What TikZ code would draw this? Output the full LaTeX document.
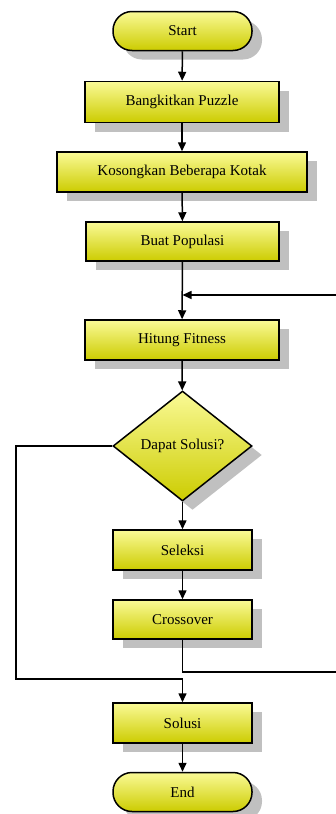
\documentclass[tikz,border=0pt]{standalone}
\usepackage{fontspec}
\setmainfont{Liberation Serif}
\usetikzlibrary{shapes.geometric,shadows,arrows.meta}
\definecolor{ytop}{HTML}{FAFA96}
\definecolor{ybot}{HTML}{CCCC00}
\definecolor{shd}{HTML}{C0C0C0}
\tikzset{
 box/.style={draw=black, line width=1.5pt, top color=ytop, bottom color=ybot,
   drop shadow={shadow xshift=10pt, shadow yshift=-9pt, fill=shd, opacity=1},
   font=\fontsize{15}{18}\selectfont, inner sep=0pt},
 proc/.style={box, rectangle, minimum height=40pt},
 term/.style={box, rectangle, rounded corners=19pt, minimum width=139pt, minimum height=39pt},
 dec/.style={box, diamond, aspect=1.26, minimum width=139pt, minimum height=110pt},
 arr/.style={line width=1.5pt, -{Triangle[length=9pt,width=8pt]}},
 ln/.style={line width=1.5pt}
}
\begin{document}
\begin{tikzpicture}[x=1pt,y=-1pt]
\useasboundingbox (0,0) rectangle (336,814);
\node[term] (start) at (182.5,31) {Start};
\node[proc, minimum width=194pt, minimum height=41pt] (bang) at (182,102) {Bangkitkan Puzzle};
\node[proc, minimum width=250pt] (kos) at (182,172) {Kosongkan Beberapa Kotak};
\node[proc, minimum width=193pt, minimum height=39pt] (buat) at (182.5,241.5) {Buat Populasi};
\node[proc, minimum width=194pt] (hit) at (182,340) {Hitung Fitness};
\node[dec] (dia) at (182.5,446) {Dapat Solusi?};
\node[proc, minimum width=139pt] (sel) at (182.5,550) {Seleksi};
\node[proc, minimum width=139pt, minimum height=39pt] (cross) at (182.5,619.5) {Crossover};
\node[proc, minimum width=139pt] (sol) at (182.5,723) {Solusi};
\node[term] (end) at (182.5,792) {End};

\coordinate (merge) at (182.5,295);
\coordinate (rt) at (342,295);
\coordinate (rb) at (342,672);
\coordinate (cb) at (182.5,672);
\coordinate (lt) at (16,446);
\coordinate (lb) at (16,679);
\coordinate (mb) at (182.5,679);

\draw[arr] (start) -- (bang);
\draw[arr] (bang) -- (kos);
\draw[arr] (kos) -- (buat);
\draw[arr] (buat) -- (hit);
\draw[arr] (hit) -- (dia);
\draw[arr] (dia) -- (sel);
\draw[arr] (sel) -- (cross);
\draw[arr] (sol) -- (end);
\draw[arr] (cross.south) -- (cb) -- (rb) -- (rt) -- (merge);
\draw[arr] (dia.west) -- (lt) -- (lb) -- (mb) -- (sol.north);
\end{tikzpicture}
\end{document}
